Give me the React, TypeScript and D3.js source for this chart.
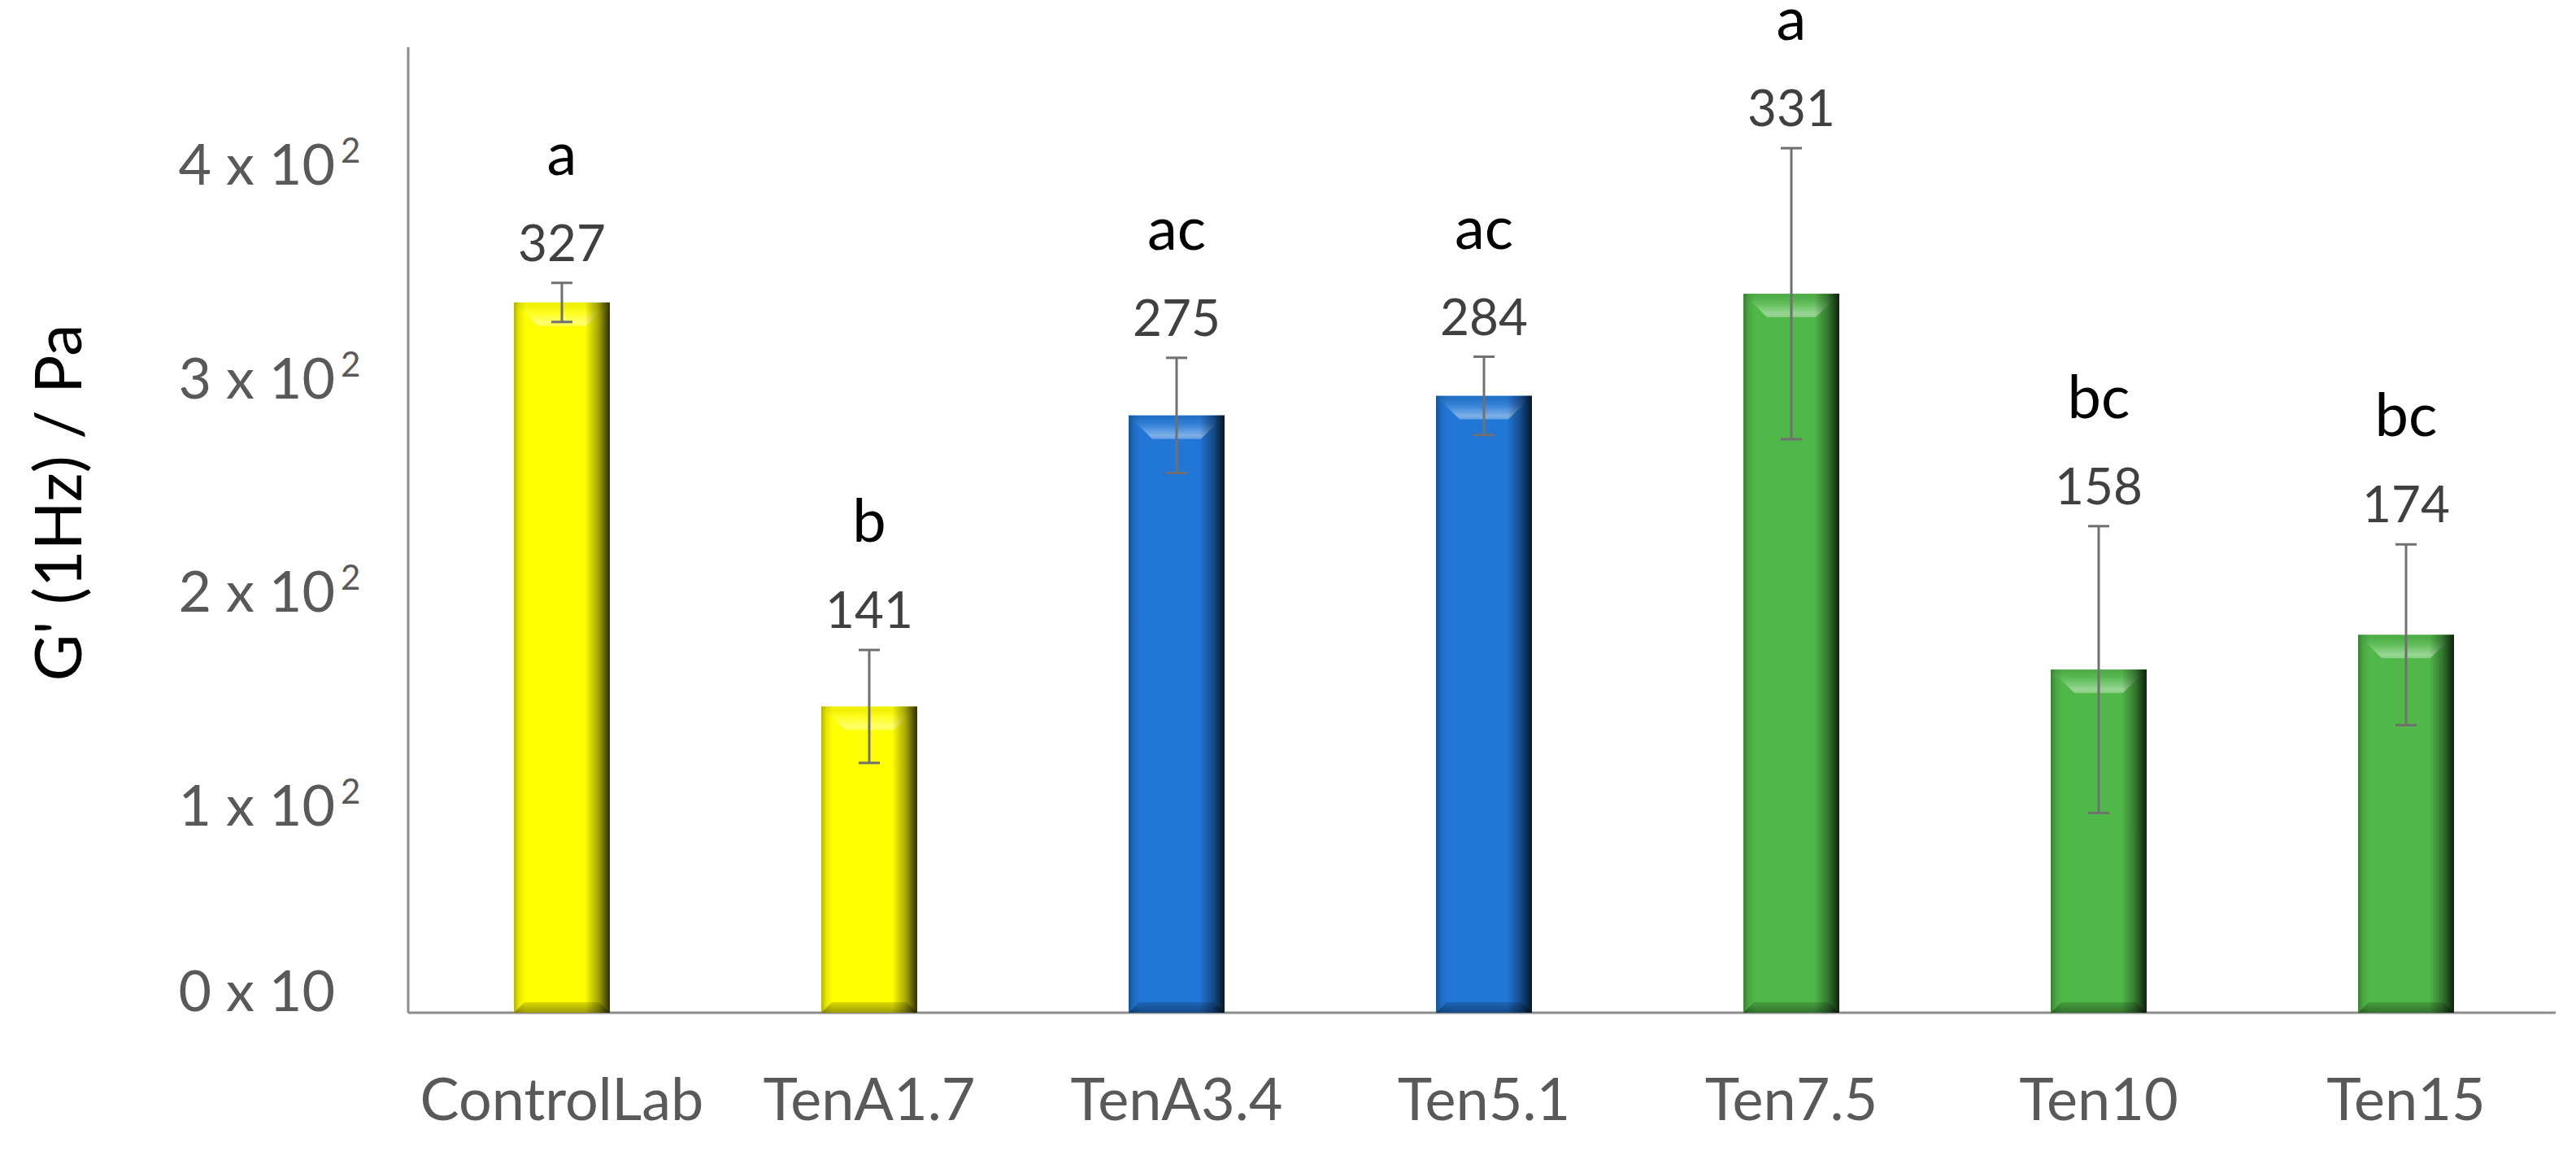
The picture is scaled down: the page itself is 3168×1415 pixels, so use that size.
import React from "react";
import * as d3 from "d3";

const categories = ["ControlLab", "TenA1.7", "TenA3.4", "Ten5.1", "Ten7.5", "Ten10", "Ten15"];
const values = [327, 141, 275, 284, 331, 158, 174];
const errors = [9, 26, 26.5, 18, 67, 66, 41.6];
const letters = ["a", "b", "ac", "ac", "a", "bc", "bc"];
const groups = ["yellow", "yellow", "blue", "blue", "green", "green", "green"];
const tickValues = [0, 100, 200, 300, 400];
const tickMains = ["0 x 10", "1 x 10", "2 x 10", "3 x 10", "4 x 10"];
const tickSups = ["", "2", "2", "2", "2"];
const yTitle = "G' (1Hz) / Pa";

const palette: Record<string, string> = {
  yellow: "#FFFF00",
  blue: "#2176D6",
  green: "#50B848",
};

const W = 3168;
const H = 1415;
const FONT = "Lato, 'Open Sans', sans-serif";

export default function App() {
  const x = d3.scaleBand<string>().domain(categories).range([502, 3148]).paddingInner(0).paddingOuter(0);
  const y = d3.scaleLinear().domain([0, 443]).range([1245, 62]);
  const tickY = d3.scaleLinear().domain([0, 100, 400]).range([1243, 1015, 227]);
  const barW = x.bandwidth() * 0.312;
  const topB = 29;
  const botB = 13;

  return (
    <svg width={W} height={H} style={{ position: "absolute", left: 0, top: 0, background: "#fff" }} fontFamily={FONT}>
      <defs>
        <linearGradient id="sideShade" x1="0" y1="0" x2="1" y2="0">
          <stop offset="0" stopColor="#000" stopOpacity="0.3" />
          <stop offset="0.05" stopColor="#000" stopOpacity="0.1" />
          <stop offset="0.12" stopColor="#000" stopOpacity="0" />
          <stop offset="0.74" stopColor="#000" stopOpacity="0" />
          <stop offset="0.88" stopColor="#000" stopOpacity="0.35" />
          <stop offset="1" stopColor="#000" stopOpacity="0.82" />
        </linearGradient>
        <linearGradient id="topShade" x1="0" y1="0" x2="0" y2="1">
          <stop offset="0" stopColor="#000" stopOpacity="0.06" />
          <stop offset="0.45" stopColor="#fff" stopOpacity="0.12" />
          <stop offset="0.85" stopColor="#fff" stopOpacity="0.42" />
          <stop offset="1" stopColor="#fff" stopOpacity="0.3" />
        </linearGradient>
        <linearGradient id="botShade" x1="0" y1="0" x2="0" y2="1">
          <stop offset="0" stopColor="#000" stopOpacity="0.14" />
          <stop offset="1" stopColor="#000" stopOpacity="0.38" />
        </linearGradient>
      </defs>

      {/* axes */}
      <line x1={502} x2={502} y1={y(443) - 4} y2={y(0)} stroke="#8c8c8c" strokeWidth={3} />
      <line x1={502} x2={3143} y1={y(0)} y2={y(0)} stroke="#8c8c8c" strokeWidth={3} />

      {/* y tick labels */}
      {tickValues.map((v, i) => (
        <g key={"t" + i}>
          <text x={412} y={tickY(v)} textAnchor="end" fontSize={70} fill="#595959">
            {tickMains[i]}
          </text>
          {tickSups[i] && (
            <text x={419} y={tickY(v) - 27} textAnchor="start" fontSize={42} fill="#595959">
              {tickSups[i]}
            </text>
          )}
        </g>
      ))}

      {/* y title */}
      <text
        transform={`translate(${100},${618}) rotate(-90)`}
        textAnchor="middle"
        fontSize={79}
        fill="#000"
      >
        {yTitle}
      </text>

      {/* bars */}
      {categories.map((c, i) => {
        const cx = (x(c) as number) + x.bandwidth() / 2;
        const bx = cx - barW / 2;
        const by = y(values[i]);
        const bh = y(0) - by;
        const col = palette[groups[i]];
        return (
          <g key={c}>
            <rect x={bx} y={by} width={barW} height={bh} fill={col} />
            <polygon
              points={`${bx},${by} ${bx + barW},${by} ${bx + barW - topB},${by + topB} ${bx + topB},${by + topB}`}
              fill="url(#topShade)"
            />
            <polygon
              points={`${bx},${by + bh} ${bx + barW},${by + bh} ${bx + barW - botB},${by + bh - botB} ${bx + botB},${by + bh - botB}`}
              fill="url(#botShade)"
            />
            <rect x={bx} y={by} width={barW} height={bh} fill="url(#sideShade)" />
          </g>
        );
      })}

      {/* error bars */}
      {categories.map((c, i) => {
        const cx = (x(c) as number) + x.bandwidth() / 2;
        const yt = y(values[i] + errors[i]);
        const yb = y(values[i] - errors[i]);
        return (
          <g key={"e" + c} stroke="#707070" strokeWidth={3}>
            <line x1={cx} x2={cx} y1={yt} y2={yb} />
            <line x1={cx - 13} x2={cx + 13} y1={yt} y2={yt} />
            <line x1={cx - 13} x2={cx + 13} y1={yb} y2={yb} />
          </g>
        );
      })}

      {/* value labels & letters */}
      {categories.map((c, i) => {
        const cx = (x(c) as number) + x.bandwidth() / 2;
        const base = y(values[i] + errors[i]) - 27;
        return (
          <g key={"l" + c}>
            <text x={cx} y={base} textAnchor="middle" fontSize={62} fill="#404040">
              {values[i]}
            </text>
            <text x={cx} y={base - 106} textAnchor="middle" fontSize={74} fill="#000">
              {letters[i]}
            </text>
          </g>
        );
      })}

      {/* x labels */}
      {categories.map((c) => (
        <text
          key={"x" + c}
          x={(x(c) as number) + x.bandwidth() / 2}
          y={1377}
          textAnchor="middle"
          fontSize={72}
          fill="#595959"
        >
          {c}
        </text>
      ))}
    </svg>
  );
}
